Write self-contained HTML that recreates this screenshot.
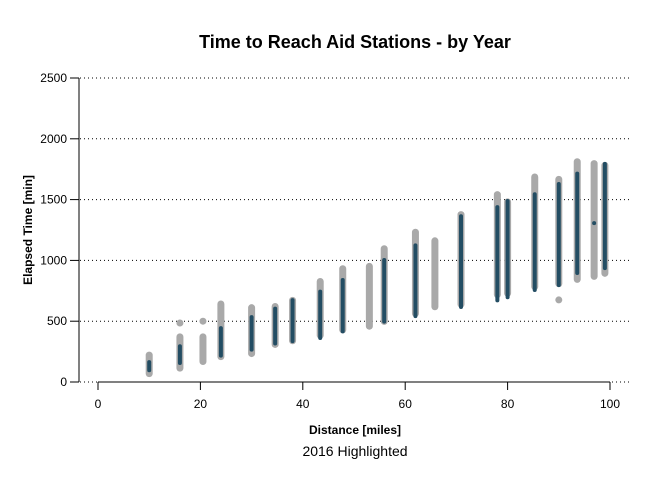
<!DOCTYPE html>
<html><head><meta charset="utf-8"><style>
body{margin:0;background:#fff}
svg text{font-family:"Liberation Sans",Arial,sans-serif}
</style></head><body>
<svg id="chart" width="672" height="480" xmlns="http://www.w3.org/2000/svg">
<text x="355" y="48" text-anchor="middle" font-size="18" font-weight="bold">Time to Reach Aid Stations - by Year</text>
<g id="grid"></g>
<g id="axes"></g>
<g id="marks"></g>
<text x="355" y="434" text-anchor="middle" font-size="12" font-weight="bold">Distance [miles]</text>
<text x="355" y="456" text-anchor="middle" font-size="14">2016 Highlighted</text>
<text transform="translate(32,230) rotate(-90)" text-anchor="middle" font-size="12" font-weight="bold">Elapsed Time [min]</text>
</svg>
<script>
const stations=[10,16,20.5,24,30,34.6,38,43.4,47.8,53,55.9,62,65.8,70.9,78,80,85.3,90,93.6,96.9,99];
const grayMin=[40,85,140,180,205,280,310,355,400,430,470,535,590,610,690,700,755,780,815,840,865];
const grayMax=[250,400,400,670,640,650,700,855,960,980,1125,1260,1190,1405,1570,1510,1715,1695,1840,1825,1810];
const blueMin=[80,140,null,200,250,300,320,345,400,null,480,525,null,600,655,680,740,780,880,1290,920];
const blueMax=[180,310,null,460,550,620,690,760,855,null,1020,1140,null,1380,1455,1505,1560,1645,1730,1290,1810];
const outliers=[[16,485],[20.5,500],[90,675]];
const xTicks=[0,20,40,60,80,100];
const yTicks=[0,500,1000,1500,2000,2500];
const X=v=>98+v*5.12, Y=v=>382-v*0.1216;
const NS="http://www.w3.org/2000/svg";
function mk(tag,attrs,parent){const e=document.createElementNS(NS,tag);for(const k in attrs)e.setAttribute(k,attrs[k]);parent.appendChild(e);return e;}
const grid=document.getElementById('grid'),axes=document.getElementById('axes'),marks=document.getElementById('marks');
yTicks.forEach(t=>{
 const g=mk('line',{x1:80,x2:632,y1:Y(t),y2:Y(t),stroke:'#000','stroke-dasharray':'1,3','stroke-width':1},grid);
 
 
 const tk=mk('line',{x1:70,x2:79,y1:Y(t),y2:Y(t),stroke:'#000'},axes);
 
 
 const l=mk('text',{x:67,y:Y(t)+4,'text-anchor':'end','font-size':12},axes);l.textContent=t;
 
 
});
const ya=mk('line',{x1:79,x2:79,y1:Y(2500),y2:382,stroke:'#000'},axes);


const xa=mk('line',{x1:X(0),x2:X(100),y1:382,y2:382,stroke:'#000'},axes);


xTicks.forEach(t=>{
 const tk=mk('line',{x1:X(t),x2:X(t),y1:382,y2:390,stroke:'#000'},axes);
 
 
 const l=mk('text',{x:X(t),y:408,'text-anchor':'middle','font-size':12},axes);l.textContent=t;
 
 
});
stations.forEach((s,i)=>{
 const a=Y(grayMin[i])-3.5,b=Y(grayMax[i])+3.5;
 const g=mk('line',{x1:X(s),x2:X(s),y1:a,y2:Math.min(a,b),stroke:'#a9a9a9','stroke-width':7,'stroke-linecap':'round'},marks);
 
 
});
outliers.forEach(o=>{
 const c=mk('circle',{cx:X(o[0]),cy:Y(o[1]),r:3.5,fill:'#a9a9a9'},marks);
 
 
});
stations.forEach((s,i)=>{
 if(blueMin[i]==null)return;
 const a=Y(blueMin[i])-2,b=Y(blueMax[i])+2;
 const bl=mk('line',{x1:X(s),x2:X(s),y1:a,y2:Math.min(a,b),stroke:'#234d63','stroke-width':4,'stroke-linecap':'round'},marks);
 
 
});
</script>
</body></html>
